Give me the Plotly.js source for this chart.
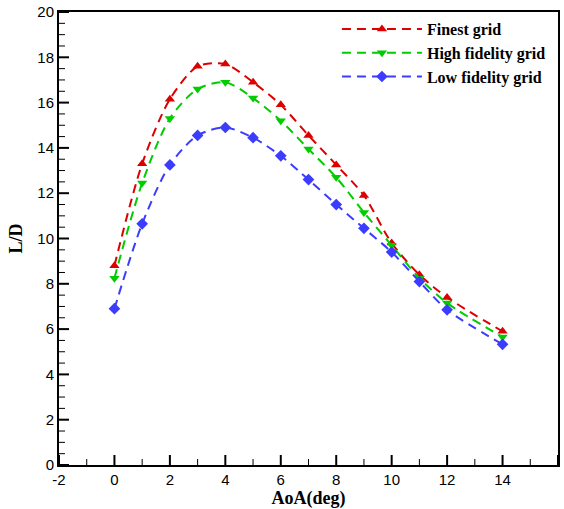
<!DOCTYPE html>
<html>
<head>
<meta charset="utf-8">
<script src="https://cdn.plot.ly/plotly-3.0.1.min.js"></script>
<style>html,body{margin:0;padding:0;background:#fff;}#chart{width:564px;height:509px;}</style>
</head>
<body>
<div id="chart"></div>
<script>
const aoa = [0, 1, 2, 3, 4, 5, 6, 7, 8, 9, 10, 11, 12, 14];
const finestGrid = [8.8, 13.3, 16.15, 17.6, 17.7, 16.9, 15.9, 14.55, 13.25, 11.9, 9.8, 8.4, 7.4, 5.9];
const highFidelity = [8.25, 12.45, 15.3, 16.6, 16.9, 16.2, 15.2, 13.95, 12.7, 11.15, 9.7, 8.25, 7.15, 5.65];
const lowFidelity = [6.9, 10.65, 13.25, 14.55, 14.9, 14.45, 13.65, 12.6, 11.5, 10.45, 9.4, 8.1, 6.85, 5.33];
const seriesNames = ["Finest grid", "High fidelity grid", "Low fidelity grid"];
const xTicks = [-2, 0, 2, 4, 6, 8, 10, 12, 14, 16];
const yTicks = [0, 2, 4, 6, 8, 10, 12, 14, 16, 18, 20];
const xRange = [-2, 16];
const yRange = [0, 20];

const colors = ["#dd0000", "#00cc00", "#3c3cff"];
const symbols = ["triangle-up", "triangle-down", "diamond"];
const ys = [finestGrid, highFidelity, lowFidelity];

const traces = ys.map((y, i) => ({
  x: aoa, y: y, name: seriesNames[i], type: "scatter", mode: "lines+markers",
  line: {color: colors[i], width: 2, dash: "9px,6px", shape: "spline", smoothing: 0.8},
  marker: {symbol: symbols[i], size: 9, color: colors[i]}
}));

const W = 564, H = 509, M = {l: 59, r: 6, t: 12, b: 44};
const pxPerX = (W - M.l - M.r) / (xRange[1] - xRange[0]);
const pxPerY = (H - M.t - M.b) / (yRange[1] - yRange[0]);

// inside tick marks (major + minor) built from the axis tick arrays
const shapes = [];
function addXTick(v, len, w) {
  shapes.push({type: "line", layer: "above", xref: "x", yref: "y", x0: v, x1: v,
    y0: yRange[0], y1: yRange[0] + len / pxPerY, line: {color: "#000", width: w}});
}
function addYTick(v, len, w) {
  shapes.push({type: "line", layer: "above", xref: "x", yref: "y", y0: v, y1: v,
    x0: xRange[0], x1: xRange[0] + len / pxPerX, line: {color: "#000", width: w}});
}
for (let i = 0; i < xTicks.length; i++) {
  addXTick(xTicks[i], 10, 2);
  if (i < xTicks.length - 1) addXTick((xTicks[i] + xTicks[i + 1]) / 2, 6, 1);
}
for (let i = 0; i < yTicks.length; i++) {
  addYTick(yTicks[i], 10, 2);
  if (i < yTicks.length - 1) {
    const step = (yTicks[i + 1] - yTicks[i]) / 4;
    for (let k = 1; k < 4; k++) addYTick(yTicks[i] + k * step, 6, 1);
  }
}

const tickFont = {family: "Liberation Sans, Arial, sans-serif", size: 15, color: "#000"};
const titleFont = {family: "Liberation Serif, Times New Roman, serif", size: 18, color: "#000"};

const layout = {
  width: W, height: H,
  margin: M,
  paper_bgcolor: "#fff", plot_bgcolor: "#fff",
  showlegend: true,
  shapes: shapes,
  legend: {x: 0.557, y: 1.0, xanchor: "left", yanchor: "top", bgcolor: "rgba(255,255,255,0)",
    font: {family: "Liberation Serif, Times New Roman, serif", size: 16, color: "#000", weight: "bold"},
    itemwidth: 80, tracegroupgap: 0},
  xaxis: {
    range: xRange, showgrid: false, zeroline: false,
    showline: true, linecolor: "#000", linewidth: 2, mirror: true,
    ticks: "", tickvals: xTicks, ticktext: xTicks.map(v => String(v)),
    tickfont: tickFont,
    title: {text: "<b>AoA(deg)</b>", standoff: 6, font: titleFont}
  },
  yaxis: {
    range: yRange, showgrid: false, zeroline: false,
    showline: true, linecolor: "#000", linewidth: 2, mirror: true,
    ticks: "", tickvals: yTicks, ticktext: yTicks.map(v => String(v)),
    tickfont: tickFont,
    title: {text: "<b>L/D</b>", standoff: 10, font: titleFont}
  }
};

Plotly.newPlot("chart", traces, layout, {displayModeBar: false});
</script>
</body>
</html>
